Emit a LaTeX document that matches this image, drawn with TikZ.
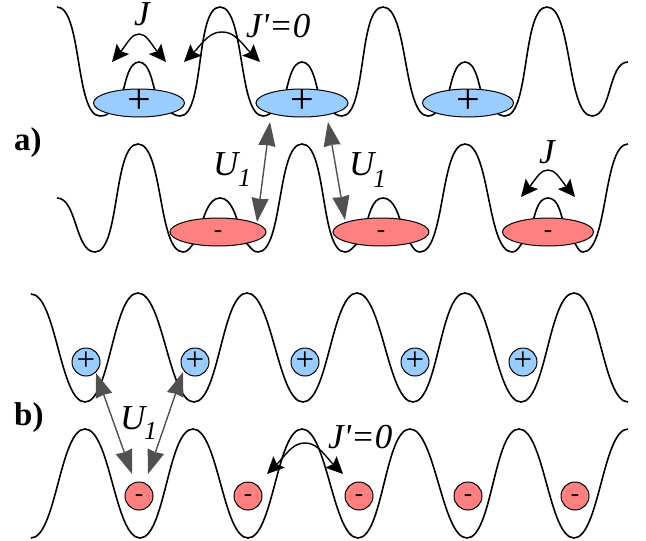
\documentclass[tikz,border=0pt]{standalone}
\usepackage{fontspec}
\setmainfont{Liberation Serif}
\newfontfamily\symf{Liberation Serif}
\usetikzlibrary{arrows.meta,shapes.geometric}
\definecolor{plusblue}{HTML}{99CCFF}
\definecolor{minusred}{HTML}{FF8080}
\definecolor{ugray}{HTML}{505050}
\newcommand\wv[3]{.. controls +(#1,0) and +(-#1,0) .. (#2,#3)}
\newcommand\signsize[1]{\fontsize{#1}{#1}\selectfont}
\newcommand\plustxt{\makebox[0pt]{\smash{\raisebox{-0.25em}{+}}}}
\newcommand\minustxt{\makebox[0pt]{\smash{\raisebox{-0.22em}{-}}}}
\tikzset{
  wave/.style={line width=1.6pt,black},
  blob/.style={ellipse,draw=black,line width=1pt,minimum height=28pt,inner sep=0pt},
  plusblob/.style={blob,fill=plusblue,font=\signsize{42}},
  minusblob/.style={blob,fill=minusred,font=\signsize{25}},
  dot/.style={circle,draw=black,line width=1pt,minimum size=28pt,inner sep=0pt},
  plusdot/.style={dot,fill=plusblue,font=\signsize{33}},
  minusdot/.style={dot,fill=minusred,font=\signsize{25}},
  ugh/.tip={Stealth[length=24pt,width=17pt,inset=1pt]},
  jh/.tip={Stealth[length=17pt,width=16pt,inset=3pt]},
  ulink/.style={ugh-ugh,ugray,line width=1.4pt},
  jlink/.style={jh-jh,black,line width=1.4pt},
  sym/.style={anchor=base west,inner sep=0pt,font=\symf\signsize{35}\itshape},
  sub/.style={anchor=base west,inner sep=0pt,font=\symf\signsize{26}\itshape},
  panel/.style={anchor=base west,inner sep=0pt,font=\signsize{33}\bfseries},
}
\begin{document}
\begin{tikzpicture}[x=1pt,y=-1pt]
\useasboundingbox (0,0) rectangle (646,541);
% panel a, upper wave
\draw[wave] (57,7) \wv{25}{100}{116} \wv{14}{122}{104}
 (120,104) .. controls (125,85) and (128,62) .. (139,62) .. controls (150,62) and (153,85) .. (158,104)
 (156,104) \wv{10}{180}{116} \wv{25}{220}{7} \wv{25}{263}{116} \wv{10}{285}{104}
 (283,104) .. controls (288,85) and (291,62) .. (302,62) .. controls (313,62) and (316,85) .. (321,104)
 (319,104) \wv{10}{342}{116} \wv{25}{383}{7} \wv{25}{428}{116} \wv{10}{447}{104}
 (446,104) .. controls (451,85) and (454,62) .. (465,62) .. controls (476,62) and (479,85) .. (484,104)
 (482,104) \wv{10}{505}{116} \wv{25}{547}{7} \wv{25}{592}{116} \wv{20}{628}{62};
% panel a, lower wave
\draw[wave] (57,198) \wv{20}{95}{252} \wv{25}{138}{144} \wv{25}{183}{252} \wv{8}{200}{240}
 (199,233) .. controls (204,215) and (209,198) .. (220,198) .. controls (231,198) and (236,215) .. (241,233)
 (240,240) \wv{8}{258}{252} \wv{25}{302}{144} \wv{25}{345}{252} \wv{8}{364}{240}
 (364,233) .. controls (369,215) and (372,198) .. (383,198) .. controls (394,198) and (399,215) .. (404,233)
 (404,240) \wv{8}{420}{252} \wv{25}{465}{144} \wv{25}{512}{252} \wv{8}{528}{240}
 (530,233) .. controls (535,215) and (537,198) .. (548,198) .. controls (559,198) and (561,215) .. (566,233)
 (570,240) \wv{6}{583}{252} \wv{25}{628}{144};
% panel b waves
\draw[wave] (31,294) \wv{25}{85}{402} \wv{25}{138}{293} \wv{25}{194}{402} \wv{25}{247}{293} \wv{25}{303}{402} \wv{25}{357}{293} \wv{25}{413}{402} \wv{25}{465}{293} \wv{25}{521}{402} \wv{25}{574}{293} \wv{25}{628}{402};
\draw[wave] (31,538) \wv{25}{85}{429} \wv{25}{140}{538} \wv{25}{193}{429} \wv{25}{248}{538} \wv{25}{302}{429} \wv{25}{358}{538} \wv{25}{410}{429} \wv{25}{467}{538} \wv{25}{519}{429} \wv{25}{574}{538} \wv{25}{628}{429};
% panel a particles
\node[plusblob,minimum width=91pt] (ap1) at (139,103) {\plustxt};
\node[plusblob,minimum width=92pt] (ap2) at (302,103) {\plustxt};
\node[plusblob,minimum width=91pt] (ap3) at (468,103) {\plustxt};
\node[minusblob,minimum width=96pt] (am1) at (218,232) {\minustxt};
\node[minusblob,minimum width=96pt] (am2) at (381,232) {\minustxt};
\node[minusblob,minimum width=91pt] (am3) at (548,232) {\minustxt};
% panel b particles
\node[plusdot] (bp1) at (86,362) {\plustxt};
\node[plusdot] (bp2) at (195,362) {\plustxt};
\node[plusdot] (bp3) at (305,362) {\plustxt};
\node[plusdot] (bp4) at (415,362) {\plustxt};
\node[plusdot] (bp5) at (523,362) {\plustxt};
\node[minusdot] (bm1) at (139,496) {\minustxt};
\node[minusdot] (bm2) at (248,496) {\minustxt};
\node[minusdot] (bm3) at (359,496) {\minustxt};
\node[minusdot] (bm4) at (468,496) {\minustxt};
\node[minusdot] (bm5) at (575,496) {\minustxt};
% connector end points
\coordinate (ua1) at (270,122); \coordinate (ua2) at (257,222);
\coordinate (ua3) at (328,122); \coordinate (ua4) at (345,220);
\coordinate (ub1) at (96,373); \coordinate (ub2) at (132,474);
\coordinate (ub3) at (183,372); \coordinate (ub4) at (148,474);
\coordinate (ja1) at (112,62); \coordinate (ja2) at (166,62);
\coordinate (jp1) at (184,62); \coordinate (jp2) at (260,62);
\coordinate (jc1) at (521,197); \coordinate (jc2) at (575,197);
\coordinate (jb1) at (267,474); \coordinate (jb2) at (343,474);
\draw[ulink] (ua1) -- (ua2);
\draw[ulink] (ua3) -- (ua4);
\draw[ulink] (ub1) -- (ub2);
\draw[ulink] (ub3) -- (ub4);
\draw[jlink] (ja1) -- (122,50) .. controls (128,42) and (132,34) .. (139,34) .. controls (146,34) and (150,42) .. (156,50) -- (ja2);
\draw[jlink] (jp1) -- (196,50) .. controls (206,38) and (212,32) .. (222,32) .. controls (232,32) and (238,38) .. (248,50) -- (jp2);
\draw[jlink] (jc1) -- (531,185) .. controls (537,177) and (541,170) .. (548,170) .. controls (555,170) and (559,177) .. (565,185) -- (jc2);
\draw[jlink] (jb1) -- (279,462) .. controls (289,450) and (295,443) .. (305,443) .. controls (315,443) and (321,450) .. (331,462) -- (jb2);
% labels
\node[panel] (la) at (14,150) {a)};
\node[panel] (lb) at (14,425) {b)};
\node[sym] (t1) at (134,25) {J};
\node[sym] (t2) at (246,37) {J'=0};
\node[sym] (t3) at (539,163) {J};
\node[sym] (t4) at (328,448) {J'=0};
\node[sym] (t5) at (213,175) {U};
\node[sub] (t6) at (238,186) {1};
\node[sym] (t7) at (349,175) {U};
\node[sub] (t8) at (373,187) {1};
\node[sym] (t9) at (120,429) {U};
\node[sub] (t10) at (144,439) {1};
\end{tikzpicture}
\end{document}
